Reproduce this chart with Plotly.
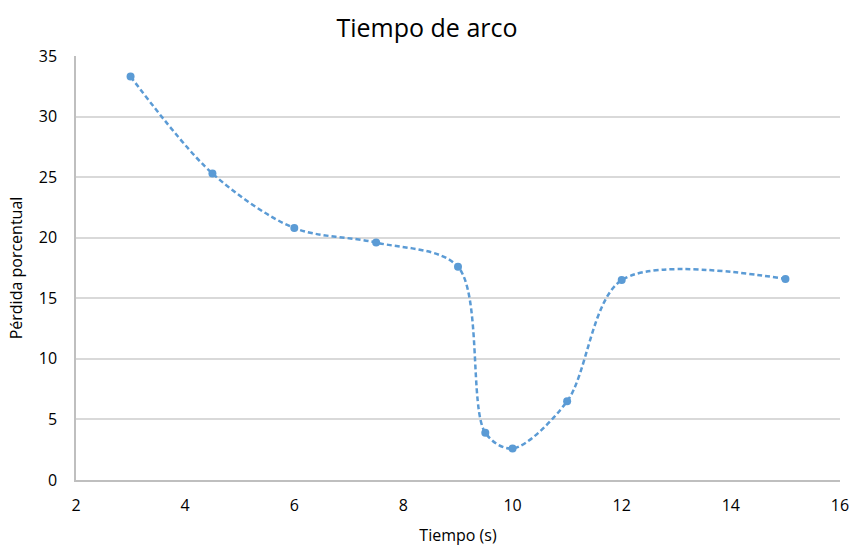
import plotly.graph_objects as go

tiempo = [3, 4.5, 6, 7.5, 9, 9.5, 10, 11, 12, 15]
perdida = [33.3, 25.3, 20.8, 19.6, 17.6, 3.9, 2.6, 6.5, 16.5, 16.6]

fig = go.Figure()
fig.add_trace(go.Scatter(
    x=tiempo, y=perdida, mode="lines+markers",
    line=dict(color="#5b9bd5", width=2.5, dash="5px,3px", shape="spline", smoothing=0.9),
    marker=dict(color="#5b9bd5", size=8),
    showlegend=False,
))

fig.update_layout(
    width=854, height=546,
    margin=dict(l=76, r=14, t=56, b=66, autoexpand=False),
    paper_bgcolor="white", plot_bgcolor="white",
    font=dict(family="Open Sans, Liberation Sans, sans-serif", color="#000000", size=16),
    title=dict(text="Tiempo de arco", x=0.5, xanchor="center", y=0.965, yanchor="top",
               font=dict(size=25, color="#000000")),
    xaxis=dict(range=[2, 16], tickvals=[2, 4, 6, 8, 10, 12, 14, 16], showgrid=False,
               showline=True, linecolor="#bfbfbf", linewidth=1.5, zeroline=False,
               ticks="", ticklabelstandoff=10, automargin=False,
               title=dict(text="Tiempo (s)", font=dict(size=16), standoff=18)),
    yaxis=dict(range=[0, 35], tickvals=[0, 5, 10, 15, 20, 25, 30, 35], showgrid=True,
               gridcolor="#d9d9d9", gridwidth=1.5, showline=True, linecolor="#bfbfbf",
               linewidth=1.5, zeroline=False, ticks="", ticklabelstandoff=14, automargin=False,
               title=dict(text="Pérdida porcentual", font=dict(size=16), standoff=12)),
)

fig.write_html("out.html")
